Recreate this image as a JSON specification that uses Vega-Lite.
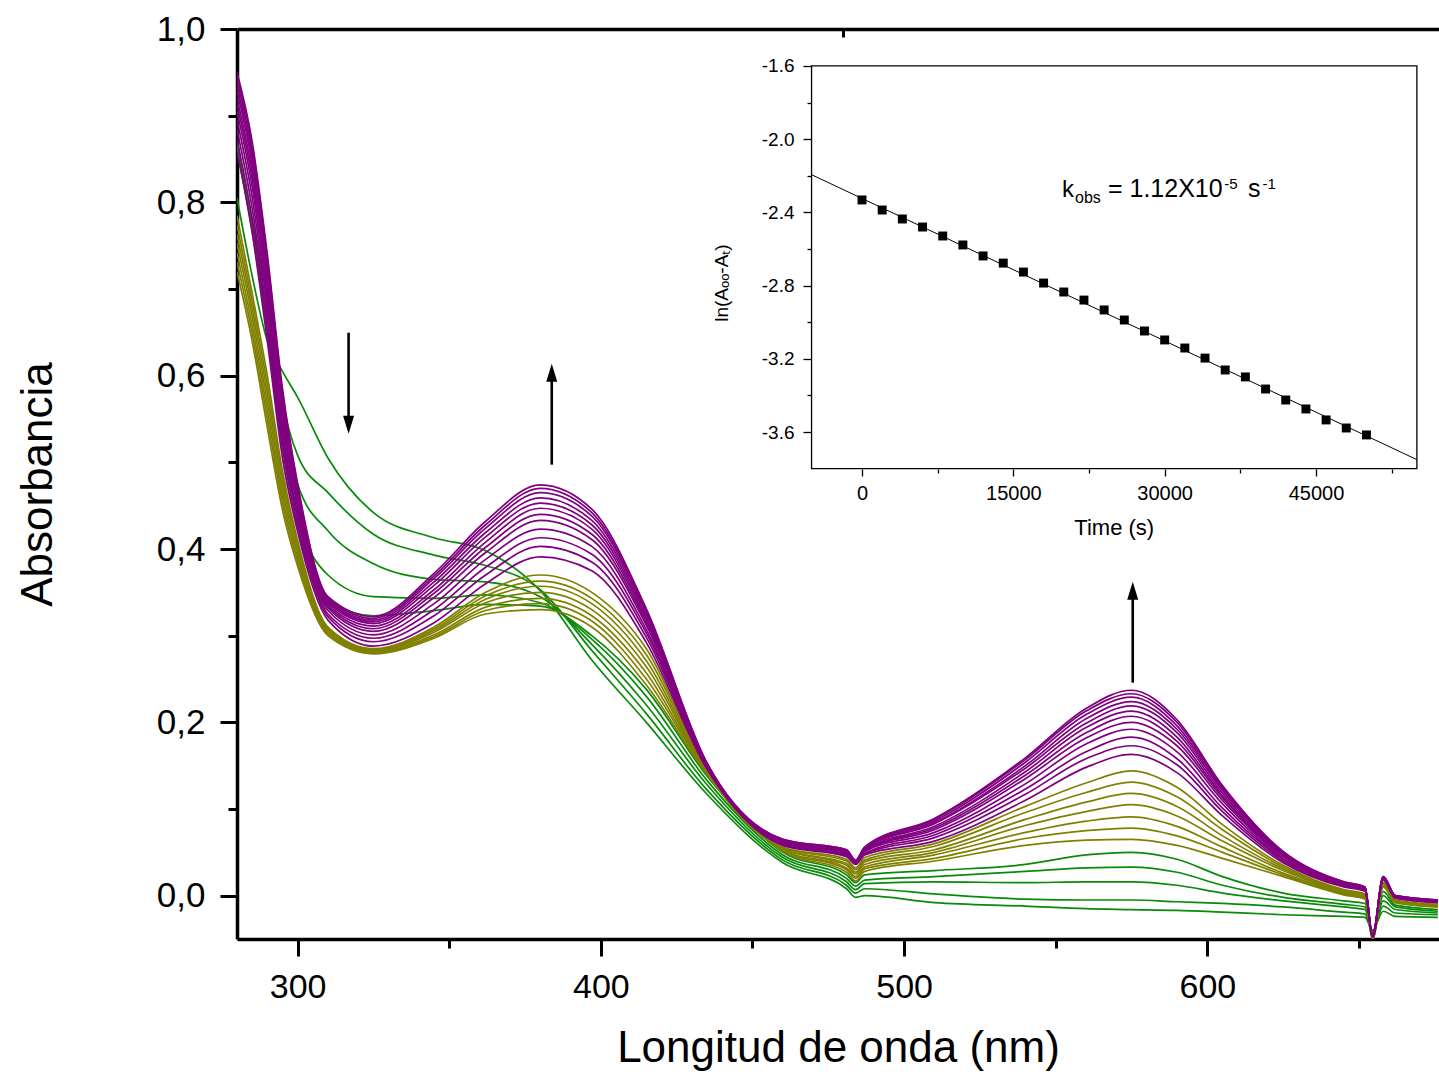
{
"$schema":"https://vega.github.io/schema/vega-lite/v6.json",
"width":1202,"height":910,
"autosize":{"type":"none"},
"padding":{"left":237,"top":29,"right":0,"bottom":135},
"config":{"view":{"stroke":null},"axis":{"grid":false,"domainColor":"black","tickColor":"black","labelColor":"black","titleColor":"black","labelFont":"Liberation Sans","titleFont":"Liberation Sans","titleFontWeight":"normal"},"text":{"font":"Liberation Sans","color":"black"}},
"resolve":{"scale":{"x":"independent","y":"independent"},"axis":{"x":"independent","y":"independent"}},
"layer":[
{
"data":{"values":[
{"s":"g1","w":280,"a":0.805},{"s":"g2","w":280,"a":0.870},{"s":"g3","w":280,"a":0.865},{"s":"g4","w":280,"a":0.862},{"s":"g5","w":280,"a":0.860},
{"s":"o1","w":280,"a":0.720},{"s":"o2","w":280,"a":0.731},{"s":"o3","w":280,"a":0.742},{"s":"o4","w":280,"a":0.753},{"s":"o5","w":280,"a":0.763},{"s":"o6","w":280,"a":0.774},{"s":"o7","w":280,"a":0.785},
{"s":"p01","w":280,"a":0.860},{"s":"p02","w":280,"a":0.873},{"s":"p03","w":280,"a":0.884},{"s":"p04","w":280,"a":0.895},{"s":"p05","w":280,"a":0.905},{"s":"p06","w":280,"a":0.913},{"s":"p07","w":280,"a":0.920},{"s":"p08","w":280,"a":0.928},{"s":"p09","w":280,"a":0.934},{"s":"p10","w":280,"a":0.940},{"s":"p11","w":280,"a":0.946},{"s":"p12","w":280,"a":0.950},
{"s":"g1","w":285,"a":0.715},{"s":"g2","w":285,"a":0.780},{"s":"g3","w":285,"a":0.775},{"s":"g4","w":285,"a":0.770},{"s":"g5","w":285,"a":0.767},
{"s":"o1","w":285,"a":0.640},{"s":"o2","w":285,"a":0.649},{"s":"o3","w":285,"a":0.658},{"s":"o4","w":285,"a":0.668},{"s":"o5","w":285,"a":0.677},{"s":"o6","w":285,"a":0.686},{"s":"o7","w":285,"a":0.695},
{"s":"p01","w":285,"a":0.765},{"s":"p02","w":285,"a":0.780},{"s":"p03","w":285,"a":0.793},{"s":"p04","w":285,"a":0.806},{"s":"p05","w":285,"a":0.818},{"s":"p06","w":285,"a":0.827},{"s":"p07","w":285,"a":0.835},{"s":"p08","w":285,"a":0.844},{"s":"p09","w":285,"a":0.851},{"s":"p10","w":285,"a":0.858},{"s":"p11","w":285,"a":0.865},{"s":"p12","w":285,"a":0.870},
{"s":"g1","w":290,"a":0.640},{"s":"g2","w":290,"a":0.690},{"s":"g3","w":290,"a":0.670},{"s":"g4","w":290,"a":0.660},{"s":"g5","w":290,"a":0.650},
{"s":"o1","w":290,"a":0.540},{"s":"o2","w":290,"a":0.550},{"s":"o3","w":290,"a":0.560},{"s":"o4","w":290,"a":0.570},{"s":"o5","w":290,"a":0.580},{"s":"o6","w":290,"a":0.590},{"s":"o7","w":290,"a":0.600},
{"s":"p01","w":290,"a":0.640},{"s":"p02","w":290,"a":0.654},{"s":"p03","w":290,"a":0.667},{"s":"p04","w":290,"a":0.679},{"s":"p05","w":290,"a":0.690},{"s":"p06","w":290,"a":0.699},{"s":"p07","w":290,"a":0.707},{"s":"p08","w":290,"a":0.715},{"s":"p09","w":290,"a":0.722},{"s":"p10","w":290,"a":0.729},{"s":"p11","w":290,"a":0.735},{"s":"p12","w":290,"a":0.740},
{"s":"g1","w":295,"a":0.605},{"s":"g2","w":295,"a":0.570},{"s":"g3","w":295,"a":0.545},{"s":"g4","w":295,"a":0.530},{"s":"g5","w":295,"a":0.520},
{"s":"o1","w":295,"a":0.445},{"s":"o2","w":295,"a":0.453},{"s":"o3","w":295,"a":0.460},{"s":"o4","w":295,"a":0.468},{"s":"o5","w":295,"a":0.475},{"s":"o6","w":295,"a":0.483},{"s":"o7","w":295,"a":0.490},
{"s":"p01","w":295,"a":0.505},{"s":"p02","w":295,"a":0.516},{"s":"p03","w":295,"a":0.527},{"s":"p04","w":295,"a":0.536},{"s":"p05","w":295,"a":0.545},{"s":"p06","w":295,"a":0.552},{"s":"p07","w":295,"a":0.559},{"s":"p08","w":295,"a":0.565},{"s":"p09","w":295,"a":0.571},{"s":"p10","w":295,"a":0.576},{"s":"p11","w":295,"a":0.581},{"s":"p12","w":295,"a":0.585},
{"s":"g1","w":300,"a":0.575},{"s":"g2","w":300,"a":0.508},{"s":"g3","w":300,"a":0.475},{"s":"g4","w":300,"a":0.440},{"s":"g5","w":300,"a":0.425},
{"s":"o1","w":300,"a":0.380},{"s":"o2","w":300,"a":0.385},{"s":"o3","w":300,"a":0.390},{"s":"o4","w":300,"a":0.395},{"s":"o5","w":300,"a":0.400},{"s":"o6","w":300,"a":0.405},{"s":"o7","w":300,"a":0.410},
{"s":"p01","w":300,"a":0.420},{"s":"p02","w":300,"a":0.428},{"s":"p03","w":300,"a":0.435},{"s":"p04","w":300,"a":0.441},{"s":"p05","w":300,"a":0.448},{"s":"p06","w":300,"a":0.452},{"s":"p07","w":300,"a":0.457},{"s":"p08","w":300,"a":0.461},{"s":"p09","w":300,"a":0.465},{"s":"p10","w":300,"a":0.469},{"s":"p11","w":300,"a":0.472},{"s":"p12","w":300,"a":0.475},
{"s":"g1","w":310,"a":0.505},{"s":"g2","w":310,"a":0.465},{"s":"g3","w":310,"a":0.421},{"s":"g4","w":310,"a":0.370},{"s":"g5","w":310,"a":0.340},
{"s":"o1","w":310,"a":0.300},{"s":"o2","w":310,"a":0.302},{"s":"o3","w":310,"a":0.303},{"s":"o4","w":310,"a":0.305},{"s":"o5","w":310,"a":0.307},{"s":"o6","w":310,"a":0.308},{"s":"o7","w":310,"a":0.310},
{"s":"p01","w":310,"a":0.318},{"s":"p02","w":310,"a":0.322},{"s":"p03","w":310,"a":0.325},{"s":"p04","w":310,"a":0.329},{"s":"p05","w":310,"a":0.332},{"s":"p06","w":310,"a":0.334},{"s":"p07","w":310,"a":0.336},{"s":"p08","w":310,"a":0.338},{"s":"p09","w":310,"a":0.340},{"s":"p10","w":310,"a":0.342},{"s":"p11","w":310,"a":0.344},{"s":"p12","w":310,"a":0.345},
{"s":"g1","w":325,"a":0.442},{"s":"g2","w":325,"a":0.417},{"s":"g3","w":325,"a":0.383},{"s":"g4","w":325,"a":0.345},{"s":"g5","w":325,"a":0.323},
{"s":"o1","w":325,"a":0.279},{"s":"o2","w":325,"a":0.280},{"s":"o3","w":325,"a":0.281},{"s":"o4","w":325,"a":0.282},{"s":"o5","w":325,"a":0.283},{"s":"o6","w":325,"a":0.284},{"s":"o7","w":325,"a":0.285},
{"s":"p01","w":325,"a":0.288},{"s":"p02","w":325,"a":0.293},{"s":"p03","w":325,"a":0.297},{"s":"p04","w":325,"a":0.301},{"s":"p05","w":325,"a":0.305},{"s":"p06","w":325,"a":0.308},{"s":"p07","w":325,"a":0.311},{"s":"p08","w":325,"a":0.314},{"s":"p09","w":325,"a":0.316},{"s":"p10","w":325,"a":0.318},{"s":"p11","w":325,"a":0.320},{"s":"p12","w":325,"a":0.322},
{"s":"g1","w":345,"a":0.413},{"s":"g2","w":345,"a":0.393},{"s":"g3","w":345,"a":0.365},{"s":"g4","w":345,"a":0.343},{"s":"g5","w":345,"a":0.329},
{"s":"o1","w":345,"a":0.297},{"s":"o2","w":345,"a":0.299},{"s":"o3","w":345,"a":0.301},{"s":"o4","w":345,"a":0.304},{"s":"o5","w":345,"a":0.306},{"s":"o6","w":345,"a":0.308},{"s":"o7","w":345,"a":0.310},
{"s":"p01","w":345,"a":0.315},{"s":"p02","w":345,"a":0.323},{"s":"p03","w":345,"a":0.330},{"s":"p04","w":345,"a":0.337},{"s":"p05","w":345,"a":0.344},{"s":"p06","w":345,"a":0.349},{"s":"p07","w":345,"a":0.353},{"s":"p08","w":345,"a":0.358},{"s":"p09","w":345,"a":0.362},{"s":"p10","w":345,"a":0.366},{"s":"p11","w":345,"a":0.369},{"s":"p12","w":345,"a":0.372},
{"s":"g1","w":362,"a":0.398},{"s":"g2","w":362,"a":0.381},{"s":"g3","w":362,"a":0.362},{"s":"g4","w":362,"a":0.347},{"s":"g5","w":362,"a":0.336},
{"s":"o1","w":362,"a":0.325},{"s":"o2","w":362,"a":0.329},{"s":"o3","w":362,"a":0.333},{"s":"o4","w":362,"a":0.338},{"s":"o5","w":362,"a":0.342},{"s":"o6","w":362,"a":0.346},{"s":"o7","w":362,"a":0.350},
{"s":"p01","w":362,"a":0.360},{"s":"p02","w":362,"a":0.370},{"s":"p03","w":362,"a":0.379},{"s":"p04","w":362,"a":0.388},{"s":"p05","w":362,"a":0.396},{"s":"p06","w":362,"a":0.402},{"s":"p07","w":362,"a":0.408},{"s":"p08","w":362,"a":0.414},{"s":"p09","w":362,"a":0.419},{"s":"p10","w":362,"a":0.424},{"s":"p11","w":362,"a":0.428},{"s":"p12","w":362,"a":0.432},
{"s":"g1","w":380,"a":0.352},{"s":"g2","w":380,"a":0.353},{"s":"g3","w":380,"a":0.345},{"s":"g4","w":380,"a":0.338},{"s":"g5","w":380,"a":0.334},
{"s":"o1","w":380,"a":0.330},{"s":"o2","w":380,"a":0.337},{"s":"o3","w":380,"a":0.343},{"s":"o4","w":380,"a":0.350},{"s":"o5","w":380,"a":0.357},{"s":"o6","w":380,"a":0.363},{"s":"o7","w":380,"a":0.370},
{"s":"p01","w":380,"a":0.391},{"s":"p02","w":380,"a":0.403},{"s":"p03","w":380,"a":0.413},{"s":"p04","w":380,"a":0.423},{"s":"p05","w":380,"a":0.433},{"s":"p06","w":380,"a":0.440},{"s":"p07","w":380,"a":0.447},{"s":"p08","w":380,"a":0.453},{"s":"p09","w":380,"a":0.459},{"s":"p10","w":380,"a":0.465},{"s":"p11","w":380,"a":0.470},{"s":"p12","w":380,"a":0.474},
{"s":"g1","w":397,"a":0.272},{"s":"g2","w":397,"a":0.283},{"s":"g3","w":397,"a":0.290},{"s":"g4","w":397,"a":0.296},{"s":"g5","w":397,"a":0.300},
{"s":"o1","w":397,"a":0.310},{"s":"o2","w":397,"a":0.317},{"s":"o3","w":397,"a":0.323},{"s":"o4","w":397,"a":0.330},{"s":"o5","w":397,"a":0.337},{"s":"o6","w":397,"a":0.343},{"s":"o7","w":397,"a":0.350},
{"s":"p01","w":397,"a":0.375},{"s":"p02","w":397,"a":0.385},{"s":"p03","w":397,"a":0.394},{"s":"p04","w":397,"a":0.403},{"s":"p05","w":397,"a":0.411},{"s":"p06","w":397,"a":0.417},{"s":"p07","w":397,"a":0.423},{"s":"p08","w":397,"a":0.428},{"s":"p09","w":397,"a":0.433},{"s":"p10","w":397,"a":0.438},{"s":"p11","w":397,"a":0.442},{"s":"p12","w":397,"a":0.446},
{"s":"g1","w":415,"a":0.200},{"s":"g2","w":415,"a":0.210},{"s":"g3","w":415,"a":0.220},{"s":"g4","w":415,"a":0.230},{"s":"g5","w":415,"a":0.238},
{"s":"o1","w":415,"a":0.243},{"s":"o2","w":415,"a":0.250},{"s":"o3","w":415,"a":0.257},{"s":"o4","w":415,"a":0.264},{"s":"o5","w":415,"a":0.271},{"s":"o6","w":415,"a":0.278},{"s":"o7","w":415,"a":0.285},
{"s":"p01","w":415,"a":0.292},{"s":"p02","w":415,"a":0.298},{"s":"p03","w":415,"a":0.303},{"s":"p04","w":415,"a":0.307},{"s":"p05","w":415,"a":0.312},{"s":"p06","w":415,"a":0.315},{"s":"p07","w":415,"a":0.318},{"s":"p08","w":415,"a":0.321},{"s":"p09","w":415,"a":0.324},{"s":"p10","w":415,"a":0.327},{"s":"p11","w":415,"a":0.329},{"s":"p12","w":415,"a":0.331},
{"s":"g1","w":435,"a":0.117},{"s":"g2","w":435,"a":0.122},{"s":"g3","w":435,"a":0.128},{"s":"g4","w":435,"a":0.133},{"s":"g5","w":435,"a":0.138},
{"s":"o1","w":435,"a":0.140},{"s":"o2","w":435,"a":0.141},{"s":"o3","w":435,"a":0.141},{"s":"o4","w":435,"a":0.142},{"s":"o5","w":435,"a":0.142},{"s":"o6","w":435,"a":0.143},{"s":"o7","w":435,"a":0.143},
{"s":"p01","w":435,"a":0.146},{"s":"p02","w":435,"a":0.147},{"s":"p03","w":435,"a":0.148},{"s":"p04","w":435,"a":0.149},{"s":"p05","w":435,"a":0.150},{"s":"p06","w":435,"a":0.150},{"s":"p07","w":435,"a":0.151},{"s":"p08","w":435,"a":0.151},{"s":"p09","w":435,"a":0.152},{"s":"p10","w":435,"a":0.152},{"s":"p11","w":435,"a":0.153},{"s":"p12","w":435,"a":0.153},
{"s":"g1","w":460,"a":0.038},{"s":"g2","w":460,"a":0.041},{"s":"g3","w":460,"a":0.044},{"s":"g4","w":460,"a":0.047},{"s":"g5","w":460,"a":0.050},
{"s":"o1","w":460,"a":0.051},{"s":"o2","w":460,"a":0.052},{"s":"o3","w":460,"a":0.053},{"s":"o4","w":460,"a":0.054},{"s":"o5","w":460,"a":0.054},{"s":"o6","w":460,"a":0.055},{"s":"o7","w":460,"a":0.056},
{"s":"p01","w":460,"a":0.058},{"s":"p02","w":460,"a":0.059},{"s":"p03","w":460,"a":0.060},{"s":"p04","w":460,"a":0.061},{"s":"p05","w":460,"a":0.062},{"s":"p06","w":460,"a":0.062},{"s":"p07","w":460,"a":0.063},{"s":"p08","w":460,"a":0.063},{"s":"p09","w":460,"a":0.064},{"s":"p10","w":460,"a":0.064},{"s":"p11","w":460,"a":0.065},{"s":"p12","w":460,"a":0.065},
{"s":"g1","w":481,"a":0.008},{"s":"g2","w":481,"a":0.012},{"s":"g3","w":481,"a":0.016},{"s":"g4","w":481,"a":0.020},{"s":"g5","w":481,"a":0.024},
{"s":"o1","w":481,"a":0.027},{"s":"o2","w":481,"a":0.030},{"s":"o3","w":481,"a":0.032},{"s":"o4","w":481,"a":0.035},{"s":"o5","w":481,"a":0.037},{"s":"o6","w":481,"a":0.040},{"s":"o7","w":481,"a":0.042},
{"s":"p01","w":481,"a":0.045},{"s":"p02","w":481,"a":0.046},{"s":"p03","w":481,"a":0.047},{"s":"p04","w":481,"a":0.048},{"s":"p05","w":481,"a":0.049},{"s":"p06","w":481,"a":0.050},{"s":"p07","w":481,"a":0.050},{"s":"p08","w":481,"a":0.051},{"s":"p09","w":481,"a":0.052},{"s":"p10","w":481,"a":0.052},{"s":"p11","w":481,"a":0.053},{"s":"p12","w":481,"a":0.053},
{"s":"g1","w":484,"a":-0.002},{"s":"g2","w":484,"a":0.003},{"s":"g3","w":484,"a":0.007},{"s":"g4","w":484,"a":0.011},{"s":"g5","w":484,"a":0.015},
{"s":"o1","w":484,"a":0.017},{"s":"o2","w":484,"a":0.020},{"s":"o3","w":484,"a":0.022},{"s":"o4","w":484,"a":0.025},{"s":"o5","w":484,"a":0.027},{"s":"o6","w":484,"a":0.030},{"s":"o7","w":484,"a":0.032},
{"s":"p01","w":484,"a":0.036},{"s":"p02","w":484,"a":0.037},{"s":"p03","w":484,"a":0.037},{"s":"p04","w":484,"a":0.038},{"s":"p05","w":484,"a":0.039},{"s":"p06","w":484,"a":0.039},{"s":"p07","w":484,"a":0.039},{"s":"p08","w":484,"a":0.040},{"s":"p09","w":484,"a":0.040},{"s":"p10","w":484,"a":0.040},{"s":"p11","w":484,"a":0.041},{"s":"p12","w":484,"a":0.041},
{"s":"g1","w":487,"a":0.000},{"s":"g2","w":487,"a":0.008},{"s":"g3","w":487,"a":0.014},{"s":"g4","w":487,"a":0.018},{"s":"g5","w":487,"a":0.024},
{"s":"o1","w":487,"a":0.028},{"s":"o2","w":487,"a":0.031},{"s":"o3","w":487,"a":0.033},{"s":"o4","w":487,"a":0.036},{"s":"o5","w":487,"a":0.039},{"s":"o6","w":487,"a":0.041},{"s":"o7","w":487,"a":0.044},
{"s":"p01","w":487,"a":0.047},{"s":"p02","w":487,"a":0.048},{"s":"p03","w":487,"a":0.049},{"s":"p04","w":487,"a":0.051},{"s":"p05","w":487,"a":0.052},{"s":"p06","w":487,"a":0.052},{"s":"p07","w":487,"a":0.053},{"s":"p08","w":487,"a":0.054},{"s":"p09","w":487,"a":0.054},{"s":"p10","w":487,"a":0.055},{"s":"p11","w":487,"a":0.056},{"s":"p12","w":487,"a":0.056},
{"s":"g1","w":510,"a":-0.008},{"s":"g2","w":510,"a":0.002},{"s":"g3","w":510,"a":0.016},{"s":"g4","w":510,"a":0.022},{"s":"g5","w":510,"a":0.029},
{"s":"o1","w":510,"a":0.040},{"s":"o2","w":510,"a":0.043},{"s":"o3","w":510,"a":0.047},{"s":"o4","w":510,"a":0.050},{"s":"o5","w":510,"a":0.053},{"s":"o6","w":510,"a":0.057},{"s":"o7","w":510,"a":0.060},
{"s":"p01","w":510,"a":0.063},{"s":"p02","w":510,"a":0.067},{"s":"p03","w":510,"a":0.070},{"s":"p04","w":510,"a":0.073},{"s":"p05","w":510,"a":0.076},{"s":"p06","w":510,"a":0.078},{"s":"p07","w":510,"a":0.080},{"s":"p08","w":510,"a":0.083},{"s":"p09","w":510,"a":0.084},{"s":"p10","w":510,"a":0.086},{"s":"p11","w":510,"a":0.088},{"s":"p12","w":510,"a":0.089},
{"s":"g1","w":540,"a":-0.012},{"s":"g2","w":540,"a":-0.004},{"s":"g3","w":540,"a":0.015},{"s":"g4","w":540,"a":0.028},{"s":"g5","w":540,"a":0.036},
{"s":"o1","w":540,"a":0.058},{"s":"o2","w":540,"a":0.066},{"s":"o3","w":540,"a":0.073},{"s":"o4","w":540,"a":0.081},{"s":"o5","w":540,"a":0.088},{"s":"o6","w":540,"a":0.096},{"s":"o7","w":540,"a":0.103},
{"s":"p01","w":540,"a":0.110},{"s":"p02","w":540,"a":0.117},{"s":"p03","w":540,"a":0.123},{"s":"p04","w":540,"a":0.129},{"s":"p05","w":540,"a":0.135},{"s":"p06","w":540,"a":0.139},{"s":"p07","w":540,"a":0.143},{"s":"p08","w":540,"a":0.147},{"s":"p09","w":540,"a":0.150},{"s":"p10","w":540,"a":0.154},{"s":"p11","w":540,"a":0.157},{"s":"p12","w":540,"a":0.159},
{"s":"g1","w":560,"a":-0.015},{"s":"g2","w":560,"a":-0.005},{"s":"g3","w":560,"a":0.016},{"s":"g4","w":560,"a":0.032},{"s":"g5","w":560,"a":0.047},
{"s":"o1","w":560,"a":0.064},{"s":"o2","w":560,"a":0.075},{"s":"o3","w":560,"a":0.086},{"s":"o4","w":560,"a":0.097},{"s":"o5","w":560,"a":0.108},{"s":"o6","w":560,"a":0.119},{"s":"o7","w":560,"a":0.130},
{"s":"p01","w":560,"a":0.148},{"s":"p02","w":560,"a":0.158},{"s":"p03","w":560,"a":0.166},{"s":"p04","w":560,"a":0.175},{"s":"p05","w":560,"a":0.182},{"s":"p06","w":560,"a":0.188},{"s":"p07","w":560,"a":0.194},{"s":"p08","w":560,"a":0.199},{"s":"p09","w":560,"a":0.204},{"s":"p10","w":560,"a":0.209},{"s":"p11","w":560,"a":0.213},{"s":"p12","w":560,"a":0.216},
{"s":"g1","w":575,"a":-0.016},{"s":"g2","w":575,"a":-0.005},{"s":"g3","w":575,"a":0.016},{"s":"g4","w":575,"a":0.033},{"s":"g5","w":575,"a":0.050},
{"s":"o1","w":575,"a":0.065},{"s":"o2","w":575,"a":0.078},{"s":"o3","w":575,"a":0.091},{"s":"o4","w":575,"a":0.105},{"s":"o5","w":575,"a":0.118},{"s":"o6","w":575,"a":0.131},{"s":"o7","w":575,"a":0.144},
{"s":"p01","w":575,"a":0.163},{"s":"p02","w":575,"a":0.173},{"s":"p03","w":575,"a":0.183},{"s":"p04","w":575,"a":0.192},{"s":"p05","w":575,"a":0.200},{"s":"p06","w":575,"a":0.207},{"s":"p07","w":575,"a":0.213},{"s":"p08","w":575,"a":0.219},{"s":"p09","w":575,"a":0.224},{"s":"p10","w":575,"a":0.229},{"s":"p11","w":575,"a":0.233},{"s":"p12","w":575,"a":0.237},
{"s":"g1","w":590,"a":-0.017},{"s":"g2","w":590,"a":-0.007},{"s":"g3","w":590,"a":0.012},{"s":"g4","w":590,"a":0.027},{"s":"g5","w":590,"a":0.042},
{"s":"o1","w":590,"a":0.058},{"s":"o2","w":590,"a":0.069},{"s":"o3","w":590,"a":0.080},{"s":"o4","w":590,"a":0.092},{"s":"o5","w":590,"a":0.103},{"s":"o6","w":590,"a":0.114},{"s":"o7","w":590,"a":0.125},
{"s":"p01","w":590,"a":0.142},{"s":"p02","w":590,"a":0.151},{"s":"p03","w":590,"a":0.158},{"s":"p04","w":590,"a":0.166},{"s":"p05","w":590,"a":0.173},{"s":"p06","w":590,"a":0.178},{"s":"p07","w":590,"a":0.183},{"s":"p08","w":590,"a":0.188},{"s":"p09","w":590,"a":0.192},{"s":"p10","w":590,"a":0.196},{"s":"p11","w":590,"a":0.200},{"s":"p12","w":590,"a":0.203},
{"s":"g1","w":605,"a":-0.019},{"s":"g2","w":605,"a":-0.009},{"s":"g3","w":605,"a":0.003},{"s":"g4","w":605,"a":0.012},{"s":"g5","w":605,"a":0.022},
{"s":"o1","w":605,"a":0.043},{"s":"o2","w":605,"a":0.050},{"s":"o3","w":605,"a":0.056},{"s":"o4","w":605,"a":0.063},{"s":"o5","w":605,"a":0.069},{"s":"o6","w":605,"a":0.076},{"s":"o7","w":605,"a":0.082},
{"s":"p01","w":605,"a":0.092},{"s":"p02","w":605,"a":0.097},{"s":"p03","w":605,"a":0.101},{"s":"p04","w":605,"a":0.106},{"s":"p05","w":605,"a":0.110},{"s":"p06","w":605,"a":0.113},{"s":"p07","w":605,"a":0.115},{"s":"p08","w":605,"a":0.118},{"s":"p09","w":605,"a":0.121},{"s":"p10","w":605,"a":0.123},{"s":"p11","w":605,"a":0.125},{"s":"p12","w":605,"a":0.127},
{"s":"g1","w":625,"a":-0.022},{"s":"g2","w":625,"a":-0.013},{"s":"g3","w":625,"a":-0.006},{"s":"g4","w":625,"a":-0.002},{"s":"g5","w":625,"a":0.003},
{"s":"o1","w":625,"a":0.022},{"s":"o2","w":625,"a":0.024},{"s":"o3","w":625,"a":0.026},{"s":"o4","w":625,"a":0.029},{"s":"o5","w":625,"a":0.031},{"s":"o6","w":625,"a":0.033},{"s":"o7","w":625,"a":0.035},
{"s":"p01","w":625,"a":0.038},{"s":"p02","w":625,"a":0.040},{"s":"p03","w":625,"a":0.042},{"s":"p04","w":625,"a":0.043},{"s":"p05","w":625,"a":0.045},{"s":"p06","w":625,"a":0.046},{"s":"p07","w":625,"a":0.047},{"s":"p08","w":625,"a":0.048},{"s":"p09","w":625,"a":0.049},{"s":"p10","w":625,"a":0.050},{"s":"p11","w":625,"a":0.050},{"s":"p12","w":625,"a":0.051},
{"s":"g1","w":645,"a":-0.024},{"s":"g2","w":645,"a":-0.019},{"s":"g3","w":645,"a":-0.013},{"s":"g4","w":645,"a":-0.010},{"s":"g5","w":645,"a":-0.006},
{"s":"o1","w":645,"a":0.001},{"s":"o2","w":645,"a":0.002},{"s":"o3","w":645,"a":0.003},{"s":"o4","w":645,"a":0.004},{"s":"o5","w":645,"a":0.005},{"s":"o6","w":645,"a":0.006},{"s":"o7","w":645,"a":0.007},
{"s":"p01","w":645,"a":0.010},{"s":"p02","w":645,"a":0.011},{"s":"p03","w":645,"a":0.012},{"s":"p04","w":645,"a":0.012},{"s":"p05","w":645,"a":0.013},{"s":"p06","w":645,"a":0.014},{"s":"p07","w":645,"a":0.014},{"s":"p08","w":645,"a":0.015},{"s":"p09","w":645,"a":0.015},{"s":"p10","w":645,"a":0.015},{"s":"p11","w":645,"a":0.016},{"s":"p12","w":645,"a":0.016},
{"s":"g1","w":652,"a":-0.025},{"s":"g2","w":652,"a":-0.021},{"s":"g3","w":652,"a":-0.016},{"s":"g4","w":652,"a":-0.013},{"s":"g5","w":652,"a":-0.009},
{"s":"o1","w":652,"a":-0.004},{"s":"o2","w":652,"a":-0.003},{"s":"o3","w":652,"a":-0.002},{"s":"o4","w":652,"a":-0.001},{"s":"o5","w":652,"a":0.000},{"s":"o6","w":652,"a":0.001},{"s":"o7","w":652,"a":0.002},
{"s":"p01","w":652,"a":0.005},{"s":"p02","w":652,"a":0.006},{"s":"p03","w":652,"a":0.006},{"s":"p04","w":652,"a":0.007},{"s":"p05","w":652,"a":0.008},{"s":"p06","w":652,"a":0.008},{"s":"p07","w":652,"a":0.008},{"s":"p08","w":652,"a":0.009},{"s":"p09","w":652,"a":0.009},{"s":"p10","w":652,"a":0.009},{"s":"p11","w":652,"a":0.010},{"s":"p12","w":652,"a":0.010},
{"s":"g1","w":654.5,"a":-0.040},{"s":"g2","w":654.5,"a":-0.042},{"s":"g3","w":654.5,"a":-0.044},{"s":"g4","w":654.5,"a":-0.046},{"s":"g5","w":654.5,"a":-0.047},
{"s":"o1","w":654.5,"a":-0.050},{"s":"o2","w":654.5,"a":-0.050},{"s":"o3","w":654.5,"a":-0.050},{"s":"o4","w":654.5,"a":-0.050},{"s":"o5","w":654.5,"a":-0.049},{"s":"o6","w":654.5,"a":-0.049},{"s":"o7","w":654.5,"a":-0.049},
{"s":"p01","w":654.5,"a":-0.048},{"s":"p02","w":654.5,"a":-0.048},{"s":"p03","w":654.5,"a":-0.047},{"s":"p04","w":654.5,"a":-0.047},{"s":"p05","w":654.5,"a":-0.047},{"s":"p06","w":654.5,"a":-0.047},{"s":"p07","w":654.5,"a":-0.047},{"s":"p08","w":654.5,"a":-0.047},{"s":"p09","w":654.5,"a":-0.046},{"s":"p10","w":654.5,"a":-0.046},{"s":"p11","w":654.5,"a":-0.046},{"s":"p12","w":654.5,"a":-0.046},
{"s":"g1","w":658,"a":-0.018},{"s":"g2","w":658,"a":-0.012},{"s":"g3","w":658,"a":-0.006},{"s":"g4","w":658,"a":0.000},{"s":"g5","w":658,"a":0.005},
{"s":"o1","w":658,"a":0.010},{"s":"o2","w":658,"a":0.011},{"s":"o3","w":658,"a":0.012},{"s":"o4","w":658,"a":0.013},{"s":"o5","w":658,"a":0.013},{"s":"o6","w":658,"a":0.014},{"s":"o7","w":658,"a":0.015},
{"s":"p01","w":658,"a":0.018},{"s":"p02","w":658,"a":0.019},{"s":"p03","w":658,"a":0.019},{"s":"p04","w":658,"a":0.020},{"s":"p05","w":658,"a":0.020},{"s":"p06","w":658,"a":0.020},{"s":"p07","w":658,"a":0.021},{"s":"p08","w":658,"a":0.021},{"s":"p09","w":658,"a":0.021},{"s":"p10","w":658,"a":0.022},{"s":"p11","w":658,"a":0.022},{"s":"p12","w":658,"a":0.022},
{"s":"g1","w":662,"a":-0.024},{"s":"g2","w":662,"a":-0.020},{"s":"g3","w":662,"a":-0.016},{"s":"g4","w":662,"a":-0.013},{"s":"g5","w":662,"a":-0.011},
{"s":"o1","w":662,"a":-0.008},{"s":"o2","w":662,"a":-0.008},{"s":"o3","w":662,"a":-0.007},{"s":"o4","w":662,"a":-0.007},{"s":"o5","w":662,"a":-0.006},{"s":"o6","w":662,"a":-0.006},{"s":"o7","w":662,"a":-0.005},
{"s":"p01","w":662,"a":-0.003},{"s":"p02","w":662,"a":-0.003},{"s":"p03","w":662,"a":-0.002},{"s":"p04","w":662,"a":-0.002},{"s":"p05","w":662,"a":-0.002},{"s":"p06","w":662,"a":-0.001},{"s":"p07","w":662,"a":-0.001},{"s":"p08","w":662,"a":-0.001},{"s":"p09","w":662,"a":-0.001},{"s":"p10","w":662,"a":0.000},{"s":"p11","w":662,"a":0.000},{"s":"p12","w":662,"a":0.000},
{"s":"g1","w":676,"a":-0.025},{"s":"g2","w":676,"a":-0.022},{"s":"g3","w":676,"a":-0.020},{"s":"g4","w":676,"a":-0.018},{"s":"g5","w":676,"a":-0.016},
{"s":"o1","w":676,"a":-0.013},{"s":"o2","w":676,"a":-0.013},{"s":"o3","w":676,"a":-0.012},{"s":"o4","w":676,"a":-0.012},{"s":"o5","w":676,"a":-0.011},{"s":"o6","w":676,"a":-0.011},{"s":"o7","w":676,"a":-0.010},
{"s":"p01","w":676,"a":-0.008},{"s":"p02","w":676,"a":-0.008},{"s":"p03","w":676,"a":-0.007},{"s":"p04","w":676,"a":-0.007},{"s":"p05","w":676,"a":-0.007},{"s":"p06","w":676,"a":-0.006},{"s":"p07","w":676,"a":-0.006},{"s":"p08","w":676,"a":-0.006},{"s":"p09","w":676,"a":-0.006},{"s":"p10","w":676,"a":-0.005},{"s":"p11","w":676,"a":-0.005},{"s":"p12","w":676,"a":-0.005}
]},
"mark":{"type":"line","interpolate":"monotone","strokeWidth":1.7,"clip":true},
"encoding":{
"x":{"field":"w","type":"quantitative","scale":{"domain":[280,676.4],"nice":false,"zero":false},
"axis":{"values":[300,350,400,450,500,550,600,650],"format":"d","labelExpr":"datum.value % 100 == 0 ? datum.label : ''","tickSize":{"condition":{"test":"datum.value % 100 == 0","value":17},"value":9},"tickWidth":3,"domainWidth":3.5,"labelFontSize":34,"labelPadding":14,"title":"Longitud de onda (nm)","titleFontSize":44,"titlePadding":22}},
"y":{"field":"a","type":"quantitative","scale":{"domain":[-0.05,1],"nice":false,"zero":false},
"axis":{"values":[0,0.1,0.2,0.3,0.4,0.5,0.6,0.7,0.8,0.9,1],"labelExpr":"round(datum.value*10) % 2 == 0 ? replace(format(datum.value,'.1f'),'.',',') : ''","tickSize":{"condition":{"test":"round(datum.value*10) % 2 == 0","value":17},"value":9},"tickWidth":3,"domainWidth":3.5,"labelFontSize":35,"labelPadding":15,"title":"Absorbancia","titleFontSize":44,"titlePadding":96}},
"color":{"field":"s","type":"nominal","legend":null,"scale":{"domain":["g1","g2","g3","g4","g5","o1","o2","o3","o4","o5","o6","o7","p01","p02","p03","p04","p05","p06","p07","p08","p09","p10","p11","p12"],"range":["#0a8a0a","#0a8a0a","#0a8a0a","#0a8a0a","#0a8a0a","#808000","#808000","#808000","#808000","#808000","#808000","#808000","#800080","#800080","#800080","#800080","#800080","#800080","#800080","#800080","#800080","#800080","#800080","#800080"]}}
}
},
{
"data":{"values":[{"w":316.8,"y1":0.6496,"y2":0.5434,"d":"down"},{"w":383.8,"y1":0.4973,"y2":0.6034,"d":"up"},{"w":575.4,"y1":0.2458,"y2":0.3519,"d":"up"}]},
"encoding":{"x":{"field":"w","type":"quantitative","scale":{"domain":[280,676.4],"nice":false,"zero":false},"axis":{"orient":"top","values":[480],"labels":false,"tickSize":-8,"tickWidth":3,"domainWidth":3.5,"title":null}}},
"layer":[
{"mark":{"type":"rule","strokeWidth":2.6,"color":"black"},"encoding":{"y":{"field":"y1","type":"quantitative","scale":{"domain":[-0.05,1],"nice":false,"zero":false},"axis":null},"y2":{"field":"y2"}}},
{"mark":{"type":"point","filled":true,"color":"black","opacity":1,"size":400,"strokeWidth":0},"encoding":{"y":{"field":"y2","type":"quantitative","scale":{"domain":[-0.05,1],"nice":false,"zero":false},"axis":null},"shape":{"field":"d","type":"nominal","legend":null,"scale":{"domain":["down","up"],"range":["M-0.55,-0.9L0.55,-0.9L0,0.9Z","M-0.55,0.9L0.55,0.9L0,-0.9Z"]}}}}
]
},
{
"layer":[
{"data":{"values":[{}]},"mark":{"type":"rect","fill":"white","stroke":"black","strokeWidth":1.3},
"encoding":{
"x":{"datum":-5000,"scale":{"domain":[-61949,57191],"nice":false,"zero":false},"axis":{"orient":"bottom","offset":-470,"values":[0,7500,15000,22500,30000,37500,45000,52500],"format":"d","labelExpr":"datum.value % 15000 == 0 ? datum.label : ''","tickSize":{"condition":{"test":"datum.value % 15000 == 0","value":7},"value":4},"tickWidth":1.3,"domain":false,"labelFontSize":20,"labelPadding":7,"title":null}},
"x2":{"datum":55000},
"y":{"datum":-1.6,"scale":{"domain":[-6.37,-1.398],"nice":false,"zero":false},"axis":{"orient":"left","offset":-575,"values":[-1.6,-1.8,-2,-2.2,-2.4,-2.6,-2.8,-3,-3.2,-3.4,-3.6],"labelExpr":"round(datum.value*10) % 4 == 0 ? replace(format(datum.value,'.1f'),'\u2212','-') : ''","tickSize":{"condition":{"test":"round(datum.value*10) % 4 == 0","value":9},"value":5},"tickWidth":1.3,"domain":false,"labelFontSize":19,"labelPadding":9,"title":null}},
"y2":{"datum":-3.8}}},
{"data":{"values":[{"t":-5000,"v":-2.194},{"t":55000,"v":-3.751}]},"mark":{"type":"line","color":"black","strokeWidth":1},
"encoding":{"x":{"field":"t","type":"quantitative","title":null,"scale":{"domain":[-61949,57191],"nice":false,"zero":false}},"y":{"field":"v","type":"quantitative","title":null,"scale":{"domain":[-6.37,-1.398],"nice":false,"zero":false}}}},
{"data":{"values":[{"t":0,"v":-2.332},{"t":2000,"v":-2.387},{"t":4000,"v":-2.436},{"t":6000,"v":-2.48},{"t":8000,"v":-2.529},{"t":10000,"v":-2.578},{"t":12000,"v":-2.638},{"t":14000,"v":-2.677},{"t":16000,"v":-2.726},{"t":18000,"v":-2.786},{"t":20000,"v":-2.835},{"t":22000,"v":-2.879},{"t":24000,"v":-2.933},{"t":26000,"v":-2.988},{"t":28000,"v":-3.048},{"t":30000,"v":-3.097},{"t":32000,"v":-3.141},{"t":34000,"v":-3.196},{"t":36000,"v":-3.261},{"t":38000,"v":-3.299},{"t":40000,"v":-3.365},{"t":42000,"v":-3.425},{"t":44000,"v":-3.474},{"t":46000,"v":-3.534},{"t":48000,"v":-3.578},{"t":50000,"v":-3.616}]},
"mark":{"type":"point","shape":"square","filled":true,"color":"black","opacity":1,"size":80},
"encoding":{"x":{"field":"t","type":"quantitative","title":null,"scale":{"domain":[-61949,57191],"nice":false,"zero":false}},"y":{"field":"v","type":"quantitative","title":null,"scale":{"domain":[-6.37,-1.398],"nice":false,"zero":false}}}},
{"data":{"values":[{}]},"mark":{"type":"text","text":"Time (s)","fontSize":22,"align":"center","baseline":"middle"},"encoding":{"x":{"datum":25000},"y":{"datum":-4.125}}},
{"data":{"values":[{}]},"mark":{"type":"text","text":"ln(Aₒₒ-Aₜ)","fontSize":19,"align":"center","baseline":"middle","angle":270},"encoding":{"x":{"datum":-13877},"y":{"datum":-2.786}}},
{"data":{"values":[{}]},"mark":{"type":"text","text":"k","fontSize":24,"align":"left","baseline":"alphabetic"},"encoding":{"x":{"datum":19824},"y":{"datum":-2.316}}},
{"data":{"values":[{}]},"mark":{"type":"text","text":"obs","fontSize":16,"align":"left","baseline":"alphabetic"},"encoding":{"x":{"datum":21112},"y":{"datum":-2.349}}},
{"data":{"values":[{}]},"mark":{"type":"text","text":"= 1.12X10","fontSize":25,"align":"left","baseline":"alphabetic"},"encoding":{"x":{"datum":24380},"y":{"datum":-2.316}}},
{"data":{"values":[{}]},"mark":{"type":"text","text":"-5","fontSize":15,"align":"left","baseline":"alphabetic"},"encoding":{"x":{"datum":35900},"y":{"datum":-2.272}}},
{"data":{"values":[{}]},"mark":{"type":"text","text":"s","fontSize":25,"align":"left","baseline":"alphabetic"},"encoding":{"x":{"datum":38250},"y":{"datum":-2.316}}},
{"data":{"values":[{}]},"mark":{"type":"text","text":"-1","fontSize":15,"align":"left","baseline":"alphabetic"},"encoding":{"x":{"datum":39700},"y":{"datum":-2.272}}}
]
}
]
}
